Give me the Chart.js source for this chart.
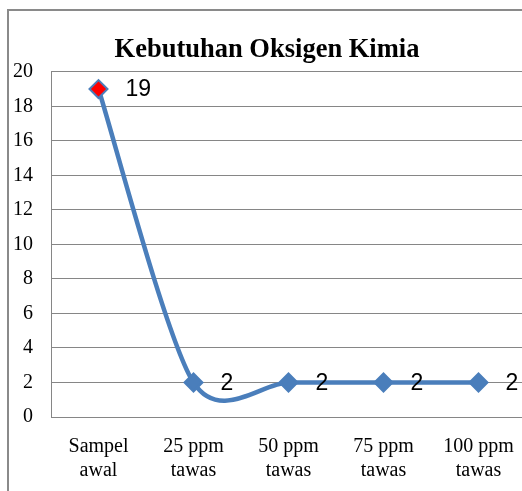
<!DOCTYPE html>
<html>
<head>
<meta charset="utf-8">
<script src="https://cdn.jsdelivr.net/npm/chart.js@4.4.1/dist/chart.umd.min.js"></script>
<style>
  body { margin: 0; overflow: hidden; background: #fff; }
  #frame { position: absolute; left: 7px; top: 9px; width: 700px; height: 700px; border: 2px solid #8a8a8a; }
  #wrap { position: absolute; left: 8px; top: 10px; width: 518px; height: 481px; }
</style>
</head>
<body>
<div id="frame"></div>
<div id="wrap"><canvas id="grafik"></canvas></div>
<script>
const kategori = [["Sampel", "awal"], ["25 ppm", "tawas"], ["50 ppm", "tawas"], ["75 ppm", "tawas"], ["100 ppm", "tawas"]];
const nilaiCOD = [19, 2, 2, 2, 2];
const warnaTitik = ["#ff0000", "#4a7ebb", "#4a7ebb", "#4a7ebb", "#4a7ebb"];
const judul = "Kebutuhan Oksigen Kimia";

// label angka di sebelah kanan titik
const labelNilai = {
  id: "labelNilai",
  afterDatasetsDraw(chart) {
    const ctx = chart.ctx;
    const meta = chart.getDatasetMeta(0);
    ctx.save();
    ctx.font = "23px 'Liberation Sans'";
    ctx.fillStyle = "#000";
    ctx.textAlign = "left";
    ctx.textBaseline = "middle";
    meta.data.forEach((titik, i) => {
      ctx.fillText(String(nilaiCOD[i]), titik.x + 27, titik.y + 1);
    });
    ctx.restore();
  }
};

// garis halus ala Excel (catmull-rom), titik kontrol dari posisi titik
const garisHalus = {
  id: "garisHalus",
  beforeDatasetDraw(chart) {
    const meta = chart.getDatasetMeta(0);
    const line = meta.dataset;
    line.updateControlPoints(chart.chartArea, "x");
    const pts = meta.data;
    const k = 0.14;
    for (let i = 0; i < pts.length; i++) {
      const a = pts[Math.max(i - 1, 0)];
      const b = pts[Math.min(i + 1, pts.length - 1)];
      const dx = (b.x - a.x) * k;
      const dy = (b.y - a.y) * k;
      pts[i].cp1x = pts[i].x - dx;
      pts[i].cp1y = pts[i].y - dy;
      pts[i].cp2x = pts[i].x + dx;
      pts[i].cp2y = pts[i].y + dy;
    }
    delete line._path;
  }
};

function gambar() {
  const el = document.getElementById("grafik").getContext("2d");
  new Chart(el, {
    type: "line",
    data: {
      labels: kategori,
      datasets: [
        {
          data: nilaiCOD,
          borderColor: "#4a7ebb",
          borderWidth: 4.5,
          tension: 0.4,
          pointStyle: "rectRot",
          pointRadius: 9,
          pointBackgroundColor: warnaTitik,
          pointBorderColor: "#4a7ebb",
          pointBorderWidth: 2,
          clip: false,
        },
      ],
    },
    options: {
      responsive: true,
      maintainAspectRatio: false,
      animation: false,
      layout: { padding: 0, autoPadding: false },
      plugins: {
        legend: { display: false },
        tooltip: { enabled: false },
        title: {
          display: true,
          text: judul,
          color: "#000",
          font: { family: "'Liberation Serif'", size: 26.5, weight: "bold" },
          padding: { top: 24, bottom: 6 },
        },
      },
      scales: {
        x: {
          offset: true,
          grid: { display: false },
          border: { display: true, color: "#868686", width: 1 },
          ticks: {
            color: "#000",
            font: { family: "'Liberation Serif'", size: 20, lineHeight: 1.2 },
            padding: 10,
            maxRotation: 0,
            autoSkip: false,
          },
          afterFit(scale) {
            scale.height = 74;
            scale.paddingLeft = 0;
            scale.paddingRight = 0;
          },
        },
        y: {
          min: 0,
          max: 20,
          grid: { color: "#868686", lineWidth: 1, drawTicks: false },
          border: { display: true, color: "#868686", width: 1 },
          ticks: {
            stepSize: 2,
            color: "#000",
            font: { family: "'Liberation Serif'", size: 20 },
            padding: 18,
          },
          afterFit(scale) {
            scale.width = 43;
          },
        },
      },
    },
    plugins: [garisHalus, labelNilai],
  });
}

document.addEventListener("DOMContentLoaded", gambar);
</script>
</body>
</html>
